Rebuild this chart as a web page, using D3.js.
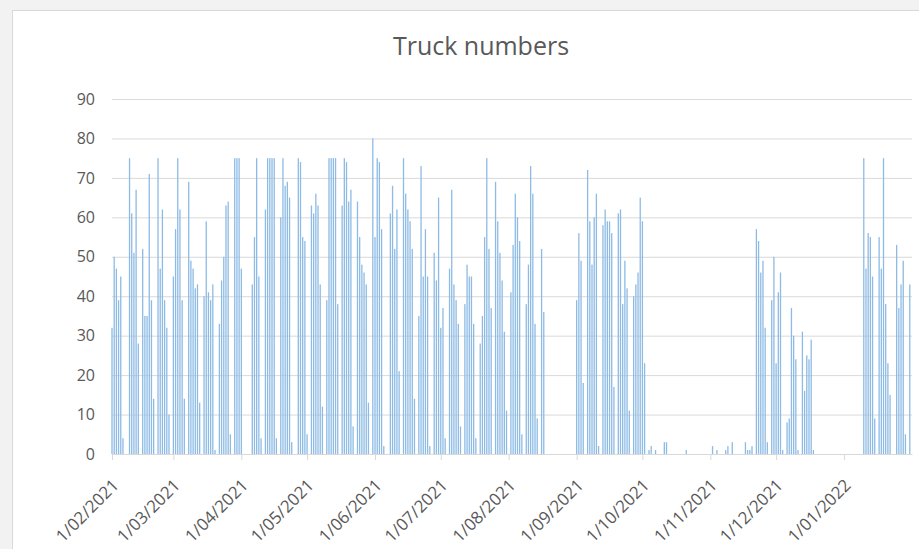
<!DOCTYPE html>
<html>
<head>
<meta charset="utf-8">
<script src="https://cdn.jsdelivr.net/npm/d3@7"></script>
<style>
  body { margin: 0; background: #f2f2f2; font-family: "Open Sans", "Liberation Sans", sans-serif; }
  .chart { width: 919px; height: 549px; }
</style>
</head>
<body>
<div class="chart"></div>
<script>
// daily truck numbers, one array per month (starting 1/02/2021)
var startDate = new Date(2021, 1, 1);
var endDate = new Date(2022, 1, 1);

var feb2021 = [32,50,47,39,45,4,0, 0,75,61,51,67,28,0, 52,35,35,71,39,14,0, 75,47,62,39,32,10,0];
var mar2021 = [45,57,75,62,39,14,0, 69,49,47,42,43,13,0, 40,59,41,39,43,1,0, 33,44,50,63,64,5,0, 75,75,75];
var apr2021 = [47,0,0,0,0,43,55,75,45,4,0, 62,75,75,75,75,4,0, 60,75,68,69,65,3,0, 0,75,74,55,54];
var may2021 = [5,0, 63,61,66,63,43,12,0, 39,75,75,75,75,38,0, 63,75,74,64,67,7,0, 64,55,48,46,43,13,0, 80];
var jun2021 = [55,75,74,57,2,0, 0,61,68,52,62,21,0, 75,66,62,59,52,14,0, 35,73,45,57,45,2,0, 51,44,65];
var jul2021 = [32,37,4,0, 47,67,43,39,33,7,0, 38,48,45,45,33,4,0, 28,35,55,75,52,37,0, 69,59,51,44,31,11];
var aug2021 = [0, 41,53,66,60,54,5,0, 38,48,73,66,33,9,0, 52,36,0,0,0,0,0, 0,0,0,0,0,0,0, 0,0];
var sep2021 = [39,56,49,18,0, 72,59,48,60,66,2,0, 58,62,59,59,56,17,0, 61,62,38,49,42,11,0, 40,43,46,65];
var oct2021 = [59,23,0,1,2,0,1,0,0,0,3,3,0,0,0,0,0,0,0,0,1,0,0,0,0,0,0,0,0,0,0];
var nov2021 = [0,2,0,1,0,0,0,1,2,0,3,0,0,0,0,0,3,1,1,2,0,57,54,46,49,32,3,0,39,50];
var dec2021 = [23,41,46,1,0, 8,9,37,30,24,1,0, 31,16,25,24,29,1,0, 0,0,0,0,0,0,0, 0,0,0,0,0];
var jan2022 = [0,0,0,0,0,0,0,0,0, 75,47,56,55,45,9,0, 55,47,75,38,23,15,0, 0,53,37,43,49,5,0, 43];

var yTicks = [0, 10, 20, 30, 40, 50, 60, 70, 80, 90];
var chartTitle = "Truck numbers";

var svgWidth = 919;
var svgHeight = 549;

var margin = {
  top: 99,
  right: 7,
  bottom: 95,
  left: 112
};

var width = svgWidth - margin.left - margin.right;
var height = svgHeight - margin.top - margin.bottom;

var truckData = [];
[feb2021, mar2021, apr2021, may2021, jun2021, jul2021, aug2021, sep2021, oct2021, nov2021, dec2021, jan2022]
  .forEach(function(month) {
    month.forEach(function(v) {
      truckData.push({
        date: d3.timeDay.offset(startDate, truckData.length),
        count: v
      });
    });
  });

var svg = d3.select(".chart")
  .append("svg")
  .attr("width", svgWidth)
  .attr("height", svgHeight);

// chart area background
svg.append("rect")
  .attr("x", 12.5)
  .attr("y", 10.5)
  .attr("width", svgWidth)
  .attr("height", svgHeight)
  .attr("fill", "white")
  .attr("stroke", "#d9d9d9");

var chartGroup = svg.append("g")
  .attr("transform", `translate(${margin.left}, ${margin.top})`);

// Step 1: scales
// ==============================
var xTimeScale = d3.scaleTime()
  .domain([startDate, endDate])
  .range([0, width]);

var yLinearScale = d3.scaleLinear()
  .domain([0, 90])
  .range([height, 0]);

// Step 2: gridlines and y labels
// ==============================
chartGroup.append("g")
  .call(d3.axisLeft(yLinearScale).tickValues(yTicks).tickSize(-width).tickPadding(17))
  .call(g => g.select(".domain").remove())
  .call(g => g.selectAll("line").attr("stroke", "#d9d9d9"))
  .call(g => g.selectAll("text")
    .attr("fill", "#595959")
    .style("font-size", "16px")
    .style("font-family", "'Open Sans', sans-serif"));

// Step 3: bars
// ==============================
var barW = 1.3;
chartGroup.selectAll(".bar")
  .data(truckData.filter(d => d.count > 0))
  .enter()
  .append("rect")
  .attr("class", "bar")
  .attr("x", d => xTimeScale(d.date) - barW / 2)
  .attr("y", d => yLinearScale(d.count))
  .attr("width", barW)
  .attr("height", d => height - yLinearScale(d.count))
  .attr("fill", "#8dbbe5");

// Step 4: x axis (one tick per month, no tick at the end)
// ==============================
var bottomAxis = d3.axisBottom(xTimeScale)
  .tickValues(d3.timeMonth.range(startDate, endDate))
  .tickFormat(d3.timeFormat("%-d/%m/%Y"))
  .tickSize(6)
  .tickSizeOuter(0);

chartGroup.append("g")
  .attr("transform", `translate(0, ${height})`)
  .call(bottomAxis)
  .call(g => g.select(".domain").attr("stroke", "#d9d9d9"))
  .call(g => g.selectAll("line").attr("stroke", "#d9d9d9"))
  .call(g => g.selectAll("text")
    .attr("fill", "#595959")
    .style("font-size", "17px")
    .style("font-family", "'Open Sans', sans-serif")
    .style("text-anchor", "end")
    .attr("dx", 0)
    .attr("dy", 0)
    .attr("transform", "translate(1, 26) rotate(-45)"));

// title
svg.append("text")
  .attr("x", 481)
  .attr("y", 55)
  .attr("text-anchor", "middle")
  .attr("fill", "#595959")
  .style("font-size", "25px")
  .style("font-family", "'Open Sans', sans-serif")
  .text(chartTitle);
</script>
</body>
</html>
